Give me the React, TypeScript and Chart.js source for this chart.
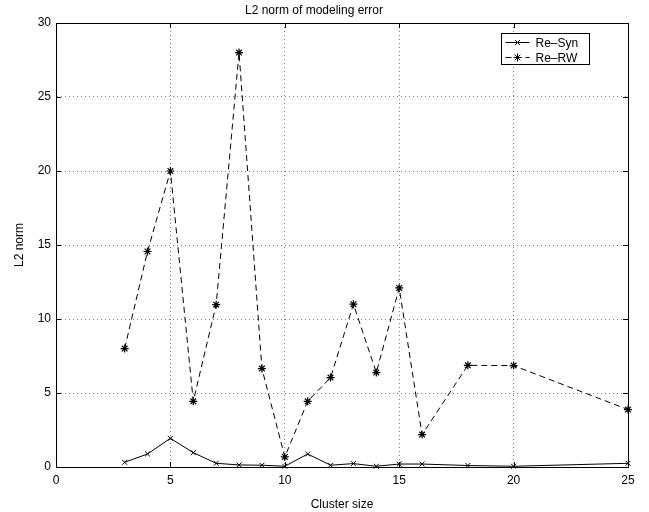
import React, { useEffect, useRef } from 'react';
import { Chart, registerables } from 'chart.js';

Chart.register(...registerables);

const clusterSizes = [3, 4, 5, 6, 7, 8, 9, 10, 11, 12, 13, 14, 15, 16, 18, 20, 25];
const reSyn = [0.32, 0.88, 1.94, 0.97, 0.25, 0.14, 0.12, 0.05, 0.88, 0.12, 0.23, 0.05, 0.2, 0.2, 0.1, 0.05, 0.25];
const reRW = [8.0, 14.56, 20.0, 4.44, 10.97, 28.0, 6.65, 0.68, 4.44, 6.04, 11.0, 6.38, 12.1, 2.19, 6.87, 6.85, 3.88];
const seriesNames = ['Re\u2013Syn', 'Re\u2013RW'];
const xMin = 0, xMax = 25, xStep = 5;
const yMin = 0, yMax = 30, yStep = 5;
const titleText = 'L2 norm of modeling error';
const xTitle = 'Cluster size';
const yTitle = 'L2 norm';

const FONT = '"Liberation Sans", Arial, Helvetica, sans-serif';

function drawMarker(ctx: CanvasRenderingContext2D, style: string, x: number, y: number, r: number) {
  ctx.beginPath();
  const d = r * Math.SQRT1_2;
  ctx.moveTo(x - d, y - d); ctx.lineTo(x + d, y + d);
  ctx.moveTo(x - d, y + d); ctx.lineTo(x + d, y - d);
  if (style === 'star') {
    ctx.moveTo(x - r, y); ctx.lineTo(x + r, y);
    ctx.moveTo(x, y - r); ctx.lineTo(x, y + r);
  }
  ctx.stroke();
}

const framePlugin = {
  id: 'frame',
  afterDraw(chart: any) {
    const { ctx, chartArea } = chart;
    const { left, right, top, bottom } = chartArea;
    ctx.save();
    ctx.setLineDash([]);
    ctx.strokeStyle = '#000';
    ctx.lineWidth = 1;
    ctx.strokeRect(Math.round(left) + 0.5, Math.round(top) + 0.5, Math.round(right - left), Math.round(bottom - top));
    const xs = chart.scales.x, ys = chart.scales.y;
    ctx.beginPath();
    for (let v = xMin; v <= xMax; v += xStep) {
      const px = Math.round(xs.getPixelForValue(v)) + 0.5;
      ctx.moveTo(px, bottom); ctx.lineTo(px, bottom - 5);
      ctx.moveTo(px, top); ctx.lineTo(px, top + 5);
    }
    for (let v = yMin; v <= yMax; v += yStep) {
      const py = Math.round(ys.getPixelForValue(v)) + 0.5;
      ctx.moveTo(left, py); ctx.lineTo(left + 5, py);
      ctx.moveTo(right, py); ctx.lineTo(right - 5, py);
    }
    ctx.stroke();

    // legend
    const bx = Math.round(right - 39 - 88) + 0.5;
    const by = Math.round(top + 10) + 0.5;
    const bw = 88, bh = 31;
    ctx.fillStyle = '#fff';
    ctx.fillRect(bx, by, bw, bh);
    ctx.strokeRect(bx, by, bw, bh);
    chart.data.datasets.forEach((ds: any, i: number) => {
      const ly = Math.round(by + 8 + i * 15) + 0.5;
      ctx.lineWidth = 1;
      ctx.strokeStyle = '#000';
      ctx.setLineDash(ds.borderDash || []);
      ctx.beginPath();
      ctx.moveTo(bx + 4, ly); ctx.lineTo(bx + 28, ly);
      ctx.stroke();
      ctx.setLineDash([]);
      drawMarker(ctx, ds.pointStyle, bx + 16, ly, ds.pointRadius);
      ctx.fillStyle = '#000';
      ctx.font = `12px ${FONT}`;
      ctx.textBaseline = 'middle';
      ctx.textAlign = 'left';
      ctx.fillText(ds.label, bx + 34, ly + 1);
    });
    ctx.restore();
  },
};

export default function App() {
  const ref = useRef<HTMLCanvasElement | null>(null);
  useEffect(() => {
    document.body.style.margin = '0';
    const canvas = ref.current!;
    const chart = new Chart(canvas, {
      type: 'line',
      data: {
        datasets: [
          {
            label: seriesNames[0],
            data: clusterSizes.map((x, i) => ({ x, y: reSyn[i] })),
            borderColor: '#000',
            backgroundColor: '#000',
            borderWidth: 1,
            pointStyle: 'crossRot',
            pointRadius: 3.5,
            pointBorderWidth: 1,
            pointBorderColor: '#000',
            fill: false,
            tension: 0,
          },
          {
            label: seriesNames[1],
            data: clusterSizes.map((x, i) => ({ x, y: reRW[i] })),
            borderColor: '#000',
            backgroundColor: '#000',
            borderWidth: 1,
            borderDash: [6, 4],
            pointStyle: 'star',
            pointRadius: 4,
            pointBorderWidth: 1.2,
            pointBorderColor: '#000',
            fill: false,
            tension: 0,
          },
        ],
      },
      options: {
        responsive: false,
        animation: false,
        clip: false as any,
        layout: { padding: { left: 0, right: 21, top: 0, bottom: 0 } },
        plugins: {
          legend: { display: false },
          tooltip: { enabled: false },
          title: {
            display: true,
            text: titleText,
            color: '#000',
            font: { family: FONT, size: 12, weight: 'normal' as any },
            padding: { top: 3, bottom: 5.6 },
          },
        },
        scales: {
          x: {
            type: 'linear',
            min: xMin,
            max: xMax,
            ticks: {
              stepSize: xStep,
              color: '#000',
              font: { family: FONT, size: 12 },
              padding: 6,
              maxRotation: 0,
            },
            grid: {
              color: 'rgba(0,0,0,0.5)',
              lineWidth: 1,
              drawTicks: false,
            },
            border: { display: true, color: '#000', dash: [1, 3] },
            title: {
              display: true,
              text: xTitle,
              color: '#000',
              font: { family: FONT, size: 12 },
              padding: { top: 9, bottom: 0 },
            },
            afterFit: (s: any) => { s.height = 45; },
          },
          y: {
            type: 'linear',
            min: yMin,
            max: yMax,
            ticks: {
              stepSize: yStep,
              color: '#000',
              font: { family: FONT, size: 12 },
              padding: 5,
            },
            grid: {
              color: 'rgba(0,0,0,0.5)',
              lineWidth: 1,
              drawTicks: false,
            },
            border: { display: true, color: '#000', dash: [1, 3] },
            title: {
              display: true,
              text: yTitle,
              color: '#000',
              font: { family: FONT, size: 12 },
              padding: { top: 12, bottom: 0 },
            },
            afterFit: (s: any) => { s.width = 56; },
          },
        },
      },
      plugins: [framePlugin],
    });
    return () => chart.destroy();
  }, []);
  return (
    <div style={{ width: 649, height: 512 }}>
      <canvas ref={ref} width={649} height={512} style={{ display: 'block' }} />
    </div>
  );
}
